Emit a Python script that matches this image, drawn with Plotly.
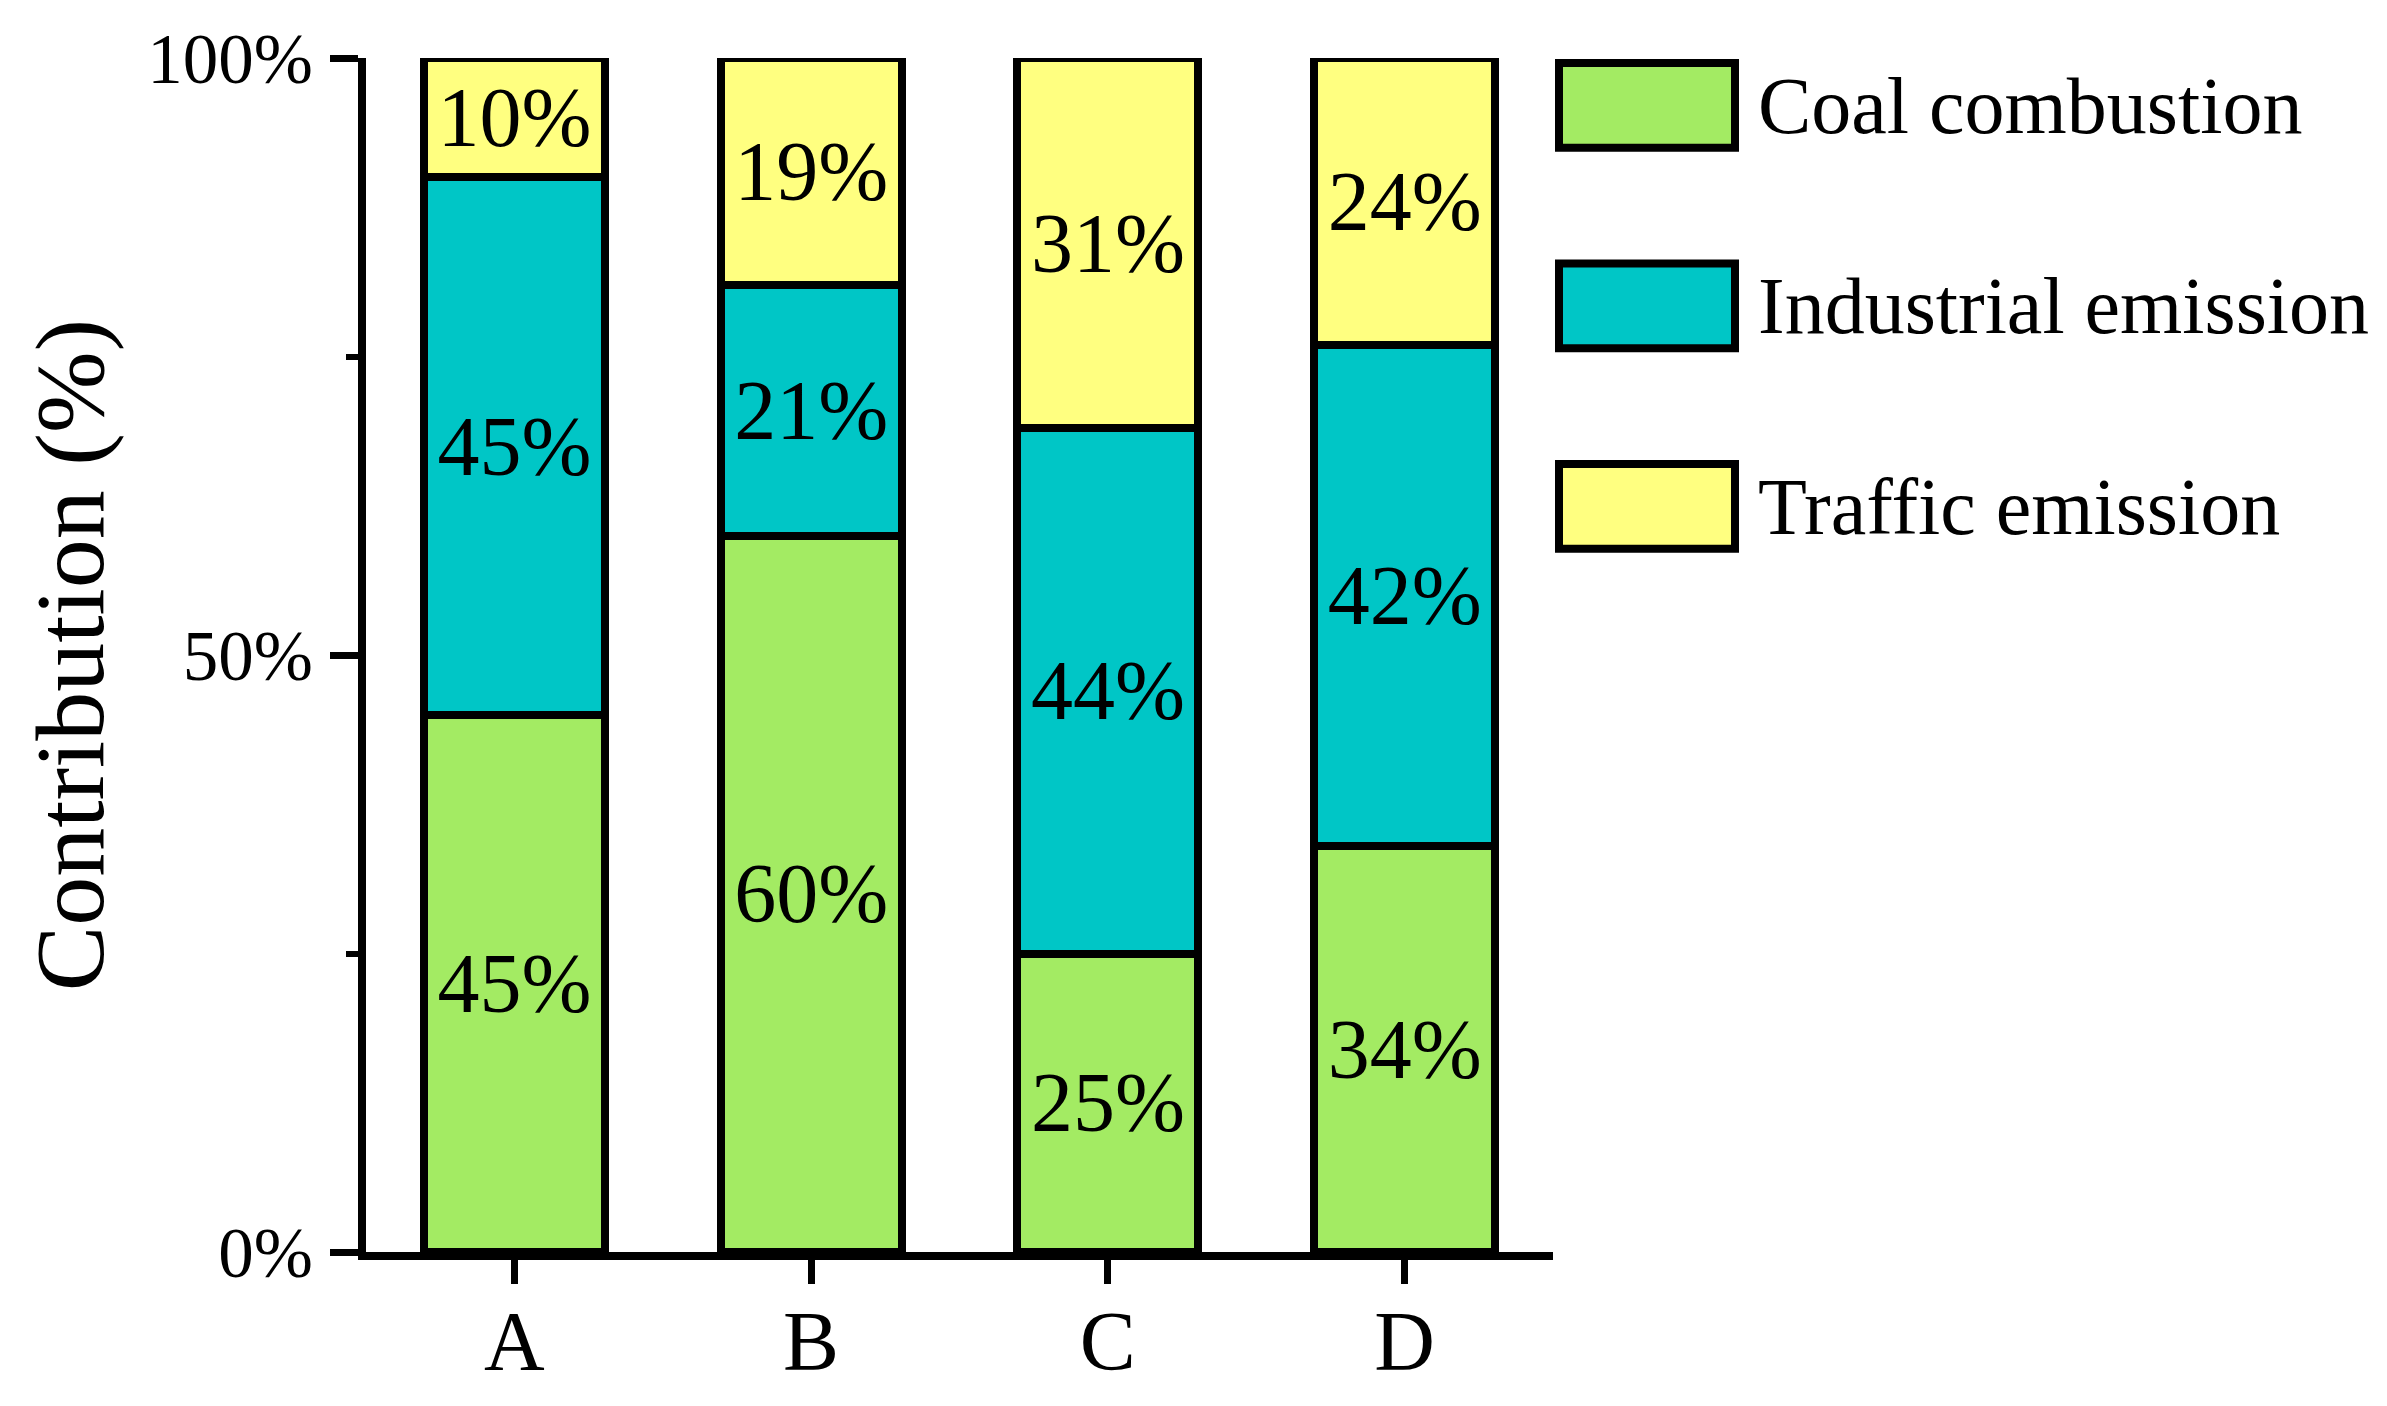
import plotly.graph_objects as go

categories = ["A", "B", "C", "D"]
series_names = ["Coal combustion", "Industrial emission", "Traffic emission"]
coal = [45, 60, 25, 34]
industrial = [45, 21, 44, 42]
traffic = [10, 19, 31, 24]
colors = ["#A3EB63", "#00C6C6", "#FFFF80"]
ytick_vals = [0, 50, 100]
ytick_text = ["0%", "50%", "100%"]

W, H = 2387, 1406
OFF = 8  # default page body margin
L, R, T, B = 358, 842, 47, 162
PW, PH = W - L - R, H - T - B
FONT = "Liberation Serif"


def sx(px):
    """screen x pixel -> paper x"""
    return (px - OFF - L) / PW


def sy(py):
    """screen y pixel -> paper y"""
    return (H - B - (py - OFF)) / PH


fig = go.Figure()
for name, vals, col in zip(series_names, [coal, industrial, traffic], colors):
    fig.add_trace(go.Bar(
        x=categories, y=vals, name=name,
        marker=dict(color=col, line=dict(color="black", width=8)),
        width=0.61,
        text=[f"{v}%" for v in vals],
        textposition="inside", insidetextanchor="middle", textangle=0,
        constraintext="none",
        insidetextfont=dict(family=FONT, size=84, color="black"),
        showlegend=False,
    ))

# legend drawn as boxes + labels
box_tops = [56, 257, 458]
for name, col, top in zip(series_names, colors, box_tops):
    fig.add_shape(type="rect", xref="paper", yref="paper",
                  x0=sx(1559), x1=sx(1735), y0=sy(top + 89), y1=sy(top + 4),
                  fillcolor=col, line=dict(color="black", width=8))
    fig.add_annotation(xref="paper", yref="paper", x=sx(1756), y=sy(top + 47),
                       text=name, showarrow=False, xanchor="left", yanchor="middle",
                       font=dict(family=FONT, size=80, color="black"))

fig.update_layout(
    width=W, height=H,
    margin=dict(l=L, r=R, t=T, b=B),
    barmode="stack",
    plot_bgcolor="white", paper_bgcolor="white",
    font=dict(family=FONT, color="black"),
    xaxis=dict(
        range=[-0.5, 3.5], showline=True, linewidth=8, linecolor="black",
        ticks="outside", ticklen=24, tickwidth=7, tickcolor="black",
        tickfont=dict(family=FONT, size=84, color="black"),
        ticklabelstandoff=-15,
        showgrid=False, zeroline=False,
    ),
    yaxis=dict(
        range=[0, 100], tickvals=ytick_vals, ticktext=ytick_text,
        showline=True, linewidth=8, linecolor="black",
        ticks="outside", ticklen=28, tickwidth=7, tickcolor="black",
        minor=dict(tickvals=[25, 75], ticks="outside", ticklen=12, tickwidth=6, tickcolor="black"),
        tickfont=dict(family=FONT, size=71, color="black"),
        ticklabelstandoff=3,
        showgrid=False, zeroline=False,
        title=dict(text="Contribution (%)", font=dict(family=FONT, size=98, color="black"), standoff=14),
    ),
)

fig.write_html("out.html")
